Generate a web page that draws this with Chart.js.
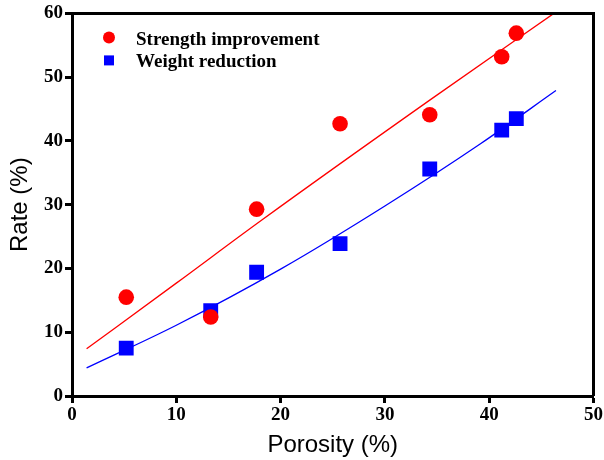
<!DOCTYPE html>
<html>
<head>
<meta charset="utf-8">
<script src="https://cdn.jsdelivr.net/npm/chart.js@4.4.1/dist/chart.umd.min.js"></script>
<style>
html,body{margin:0;padding:0;background:#fff;}
#wrap{width:604px;height:460px;}
</style>
</head>
<body>
<div id="wrap"><canvas id="c" width="604" height="460"></canvas></div>
<script>
// Data
const porosity = [5.2, 13.3, 17.7, 25.7, 34.3, 41.2, 42.6];
const strengthImprovement = [15.5, 12.4, 29.3, 42.7, 44.1, 53.2, 56.9];
const weightReduction = [7.5, 13.4, 19.4, 23.9, 35.6, 41.7, 43.5];
// fitted curves
const strengthFitX = [1.4, 10, 18.2, 34.3, 46.2];
const strengthFitY = [7.4, 17.7, 27.6, 46.4, 60.0];
const weightFitX = [1.4, 10, 20.0, 30.0, 39.2, 46.4];
const weightFitY = [4.4, 11.1, 19.9, 29.8, 39.6, 47.9];
const xTicks = [0, 10, 20, 30, 40, 50];
const yTicks = [0, 10, 20, 30, 40, 50, 60];
const seriesNames = ['Strength improvement', 'Weight reduction'];

const pts = (xs, ys) => xs.map((x, i) => ({x: x, y: ys[i]}));

const boxPlugin = {
  id: 'box',
  afterDraw(chart) {
    const {ctx, chartArea: a} = chart;
    ctx.save();
    ctx.strokeStyle = '#000';
    ctx.lineWidth = 3;
    ctx.beginPath();
    ctx.moveTo(a.left, a.top);
    ctx.lineTo(a.right, a.top);
    ctx.lineTo(a.right, a.bottom);
    ctx.stroke();
    // legend
    const lx = a.left + 37, ty = a.top + 24;
    ctx.font = 'bold 19px "Liberation Serif", "Times New Roman", serif';
    ctx.textBaseline = 'alphabetic';
    ctx.fillStyle = '#ff0000';
    ctx.beginPath();
    ctx.arc(lx, ty, 6, 0, Math.PI * 2);
    ctx.fill();
    ctx.fillStyle = '#0000ff';
    ctx.fillRect(lx - 5, ty + 23 - 5, 10, 10);
    ctx.fillStyle = '#000';
    ctx.fillText(seriesNames[0], lx + 27, ty + 8);
    ctx.fillText(seriesNames[1], lx + 27, ty + 30);
    ctx.restore();
  }
};

new Chart(document.getElementById('c'), {
  type: 'scatter',
  data: {
    datasets: [
      {
        label: seriesNames[0],
        data: pts(porosity, strengthImprovement),
        backgroundColor: '#ff0000', borderColor: '#ff0000', borderWidth: 0,
        pointStyle: 'circle', pointRadius: 7.8, pointHoverRadius: 7.8, order: 0
      },
      {
        label: seriesNames[1],
        data: pts(porosity, weightReduction),
        backgroundColor: '#0000ff', borderColor: '#0000ff', borderWidth: 0,
        pointStyle: 'rect', pointRadius: 10.5, pointHoverRadius: 10.5, order: 1
      },
      {
        type: 'line', label: 'fit1',
        data: pts(strengthFitX, strengthFitY),
        borderColor: '#ff0000', borderWidth: 1.3, pointRadius: 0,
        cubicInterpolationMode: 'monotone', fill: false, order: 2
      },
      {
        type: 'line', label: 'fit2',
        data: pts(weightFitX, weightFitY),
        borderColor: '#0000ff', borderWidth: 1.3, pointRadius: 0,
        cubicInterpolationMode: 'monotone', fill: false, order: 3
      }
    ]
  },
  options: {
    responsive: false,
    animation: false,
    devicePixelRatio: 1,
    layout: {padding: {top: 13, left: 0, right: 10, bottom: 0}},
    plugins: {legend: {display: false}, tooltip: {enabled: false}},
    scales: {
      x: {
        type: 'linear', min: 0, max: 50,
        afterBuildTicks: s => { s.ticks = xTicks.map(v => ({value: v})); },
        afterFit: s => { s.height = 64; },
        border: {display: true, color: '#000', width: 3},
        grid: {drawOnChartArea: false, drawTicks: true, tickLength: 7, tickWidth: 3, tickColor: '#000'},
        ticks: {color: '#000', padding: 1, maxRotation: 0,
          font: {family: '"Liberation Serif", "Times New Roman", serif', size: 19, weight: 'bold'}},
        title: {display: true, text: 'Porosity (%)', color: '#000', padding: {top: 0, bottom: 0},
          font: {family: '"Liberation Sans", Arial, sans-serif', size: 24}}
      },
      y: {
        type: 'linear', min: 0, max: 60,
        afterBuildTicks: s => { s.ticks = yTicks.map(v => ({value: v})); },
        afterFit: s => { s.width = 72; },
        border: {display: true, color: '#000', width: 3},
        grid: {drawOnChartArea: false, drawTicks: true, tickLength: 7, tickWidth: 3, tickColor: '#000'},
        ticks: {color: '#000', padding: 2,
          font: {family: '"Liberation Serif", "Times New Roman", serif', size: 19, weight: 'bold'}},
        title: {display: true, text: 'Rate (%)', color: '#000', padding: {top: 6, bottom: 4},
          font: {family: '"Liberation Sans", Arial, sans-serif', size: 24}}
      }
    }
  },
  plugins: [boxPlugin]
});
</script>
</body>
</html>
